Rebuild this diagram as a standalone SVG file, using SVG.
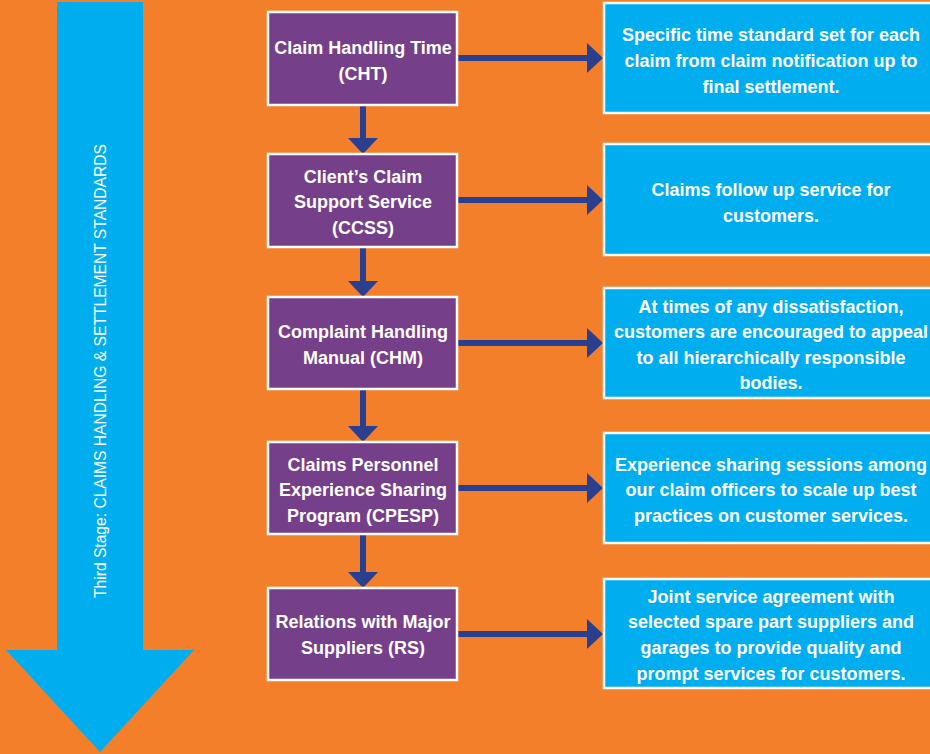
<svg xmlns="http://www.w3.org/2000/svg" width="930" height="754" viewBox="0 0 930 754">
<style>
.bg{fill:#F47F2B}
.stage{fill:#00AEEF}
.stagetxt{font-family:"Liberation Sans",Arial,sans-serif;font-size:17px;fill:#FFFFFF}
.pbox{fill:#763F8A;stroke:#FFFFFF;stroke-width:2.5}
.bbox{fill:#00AEEF;stroke:#FFFFFF;stroke-width:2.5}
.t{font-family:"Liberation Sans",Arial,sans-serif;font-weight:bold;font-size:18px;fill:#FFFFFF;text-anchor:middle}
.conn{stroke:#2A3F8F;stroke-width:6;fill:none}
</style>
<defs>
<marker id="ah" markerUnits="userSpaceOnUse" markerWidth="16" markerHeight="30" refX="0" refY="15" orient="auto" viewBox="0 0 16 30">
<path d="M0,0 L16,15 L0,30 Z" fill="#2A3F8F"/>
</marker>
</defs>
<rect class="bg" x="0" y="0" width="930" height="754"/>
<g id="stage-arrow">
<path class="stage" d="M57,2 H143 V650 H194 L100,752 L6,650 H57 Z"/>
<text class="stagetxt" transform="translate(106,371) rotate(-90)" text-anchor="middle" textLength="454" lengthAdjust="spacingAndGlyphs">Third Stage: CLAIMS HANDLING &amp; SETTLEMENT STANDARDS</text>
</g>
<g id="connectors">
<line class="conn" x1="363" y1="105" x2="363" y2="138" marker-end="url(#ah)"/>
<line class="conn" x1="363" y1="247" x2="363" y2="281" marker-end="url(#ah)"/>
<line class="conn" x1="363" y1="389" x2="363" y2="426" marker-end="url(#ah)"/>
<line class="conn" x1="363" y1="534" x2="363" y2="572" marker-end="url(#ah)"/>
<line class="conn" x1="458" y1="58" x2="587" y2="58" marker-end="url(#ah)"/>
<line class="conn" x1="458" y1="200" x2="587" y2="200" marker-end="url(#ah)"/>
<line class="conn" x1="458" y1="343" x2="587" y2="343" marker-end="url(#ah)"/>
<line class="conn" x1="458" y1="488" x2="587" y2="488" marker-end="url(#ah)"/>
<line class="conn" x1="458" y1="634" x2="587" y2="634" marker-end="url(#ah)"/>
</g>
<g id="cht">
<rect class="pbox" x="268" y="12" width="189" height="93"/>
<text class="t" x="363" y="54">Claim Handling Time</text>
<text class="t" x="363" y="80">(CHT)</text>
</g>
<g id="ccss">
<rect class="pbox" x="268" y="154" width="189" height="93"/>
<text class="t" x="363" y="183">Client’s Claim</text>
<text class="t" x="363" y="208">Support Service</text>
<text class="t" x="363" y="234">(CCSS)</text>
</g>
<g id="chm">
<rect class="pbox" x="268" y="297" width="189" height="92"/>
<text class="t" x="363" y="338">Complaint Handling</text>
<text class="t" x="363" y="364">Manual (CHM)</text>
</g>
<g id="cpesp">
<rect class="pbox" x="268" y="442" width="189" height="92"/>
<text class="t" x="363" y="471">Claims Personnel</text>
<text class="t" x="363" y="496">Experience Sharing</text>
<text class="t" x="363" y="522">Program (CPESP)</text>
</g>
<g id="rs">
<rect class="pbox" x="268" y="588" width="189" height="92"/>
<text class="t" x="363" y="628">Relations with Major</text>
<text class="t" x="363" y="654">Suppliers (RS)</text>
</g>
<g id="desc-cht">
<rect class="bbox" x="604" y="3" width="340" height="110"/>
<text class="t" x="771" y="41">Specific time standard set for each</text>
<text class="t" x="771" y="67">claim from claim notification up to</text>
<text class="t" x="771" y="93">final settlement.</text>
</g>
<g id="desc-ccss">
<rect class="bbox" x="604" y="144" width="340" height="111"/>
<text class="t" x="771" y="196">Claims follow up service for</text>
<text class="t" x="771" y="222">customers.</text>
</g>
<g id="desc-chm">
<rect class="bbox" x="604" y="288" width="340" height="110"/>
<text class="t" x="771" y="313">At times of any dissatisfaction,</text>
<text class="t" x="771" y="338">customers are encouraged to appeal</text>
<text class="t" x="771" y="364">to all hierarchically responsible</text>
<text class="t" x="771" y="389">bodies.</text>
</g>
<g id="desc-cpesp">
<rect class="bbox" x="604" y="433" width="340" height="110"/>
<text class="t" x="771" y="471">Experience sharing sessions among</text>
<text class="t" x="771" y="496">our claim officers to scale up best</text>
<text class="t" x="771" y="522">practices on customer services.</text>
</g>
<g id="desc-rs">
<rect class="bbox" x="604" y="579" width="340" height="109"/>
<text class="t" x="771" y="603">Joint service agreement with</text>
<text class="t" x="771" y="628">selected spare part suppliers and</text>
<text class="t" x="771" y="654">garages to provide quality and</text>
<text class="t" x="771" y="680">prompt services for customers.</text>
</g>
</svg>
